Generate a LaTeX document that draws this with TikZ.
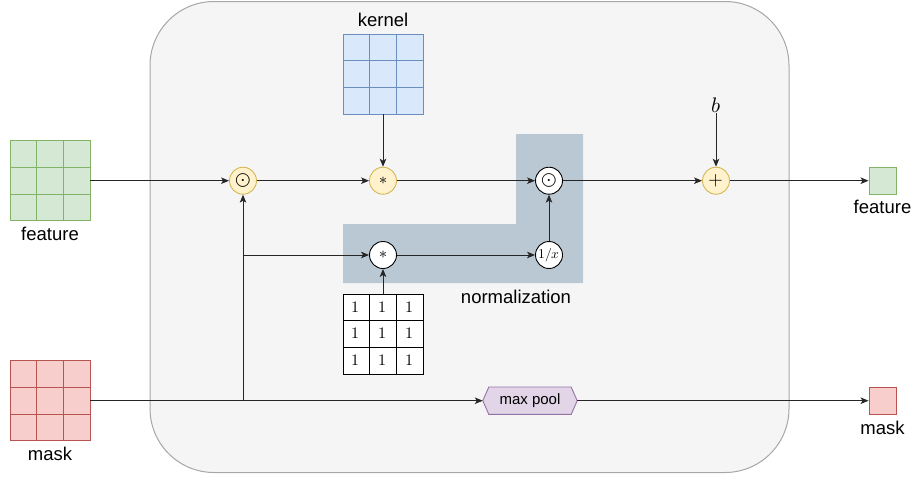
\documentclass[tikz,border=0pt]{standalone}
\usepackage{fontspec}
\usepackage{unicode-math}
\setmainfont{Liberation Sans}
\setmathfont{Latin Modern Math}
\usetikzlibrary{arrows.meta,calc}

\definecolor{panelfill}{HTML}{F5F5F5}
\definecolor{paneldraw}{HTML}{A6A6A6}
\definecolor{normfill}{HTML}{BAC8D3}
\definecolor{opfill}{HTML}{FFF2CC}
\definecolor{opdraw}{HTML}{D6B656}
\definecolor{grfill}{HTML}{D5E8D4}
\definecolor{grdraw}{HTML}{82B366}
\definecolor{rdfill}{HTML}{F8CECC}
\definecolor{rddraw}{HTML}{B85450}
\definecolor{blfill}{HTML}{DAE8FC}
\definecolor{bldraw}{HTML}{6C8EBF}
\definecolor{pufill}{HTML}{E1D5E7}
\definecolor{pudraw}{HTML}{9673A6}

% inner lines of a 3x3 grid drawn on a square node
\newcommand{\threegrid}[2]{%
  \foreach \k in {1,2} {
    \draw[#2, line width=0.9pt] ($(#1.north west)!\k/3!(#1.north east)$) -- ($(#1.south west)!\k/3!(#1.south east)$);
    \draw[#2, line width=0.9pt] ($(#1.north west)!\k/3!(#1.south west)$) -- ($(#1.north east)!\k/3!(#1.south east)$);
  }}

\begin{document}
\begin{tikzpicture}[x=1pt, y=-1pt,
  lbl/.style={font=\fontsize{18.5}{20}\selectfont, inner sep=0},
  op/.style={circle, minimum size=27pt, inner sep=0, line width=0.9pt},
  opy/.style={op, fill=opfill, draw=opdraw},
  opw/.style={op, fill=white, draw=black},
  cell/.style={minimum size=80pt, inner sep=0, line width=0.9pt, draw},
  sq/.style={minimum size=27pt, inner sep=0, line width=0.9pt, draw},
  arr/.style={-{Stealth[length=8pt,width=6.5pt,inset=2pt]}, line width=1pt, draw=black!85},
  ]
\useasboundingbox (0,0) rectangle (912,480);

% panel
\draw[fill=panelfill, draw=paneldraw, line width=1pt, rounded corners=64pt]
  (150,1.5) rectangle (789,472.5);

% normalization region
\fill[normfill] (343,224) -- (516,224) -- (516,134) -- (583,134) -- (583,283) -- (343,283) -- cycle;
\node[lbl] (normlbl) at (516,297) {normalization};

% input grids
\node[cell, fill=grfill, draw=grdraw] (feat) at (50,180.7) {};
\threegrid{feat}{grdraw}
\node[lbl] (featlbl) at (50,234) {feature};

\node[cell, fill=rdfill, draw=rddraw] (mask) at (50,400.7) {};
\threegrid{mask}{rddraw}
\node[lbl] (masklbl) at (50,454) {mask};

% kernel
\node[cell, fill=blfill, draw=bldraw] (kern) at (383,74) {};
\threegrid{kern}{bldraw}
\node[lbl] (kernlbl) at (383,20) {kernel};

% all-ones kernel
\node[cell, fill=white, draw=black] (ones) at (383,334) {};
\threegrid{ones}{black}
\foreach \i in {1,2,3} {
  \foreach \j in {1,2,3} {
    \node[inner sep=0, font=\fontsize{16}{16}\selectfont] at ($(ones.north west)+(\i*26.667-13.333,\j*26.667-13.333)$) {$1$};
  }
}

% operators
\node[opy, font=\fontsize{20}{20}\selectfont] (m1) at (243,180.7) {$\odot$};
\node[opy, font=\fontsize{16}{16}\selectfont] (c1) at (383,180.7) {$\ast$};
\node[opw, font=\fontsize{20}{20}\selectfont] (m2) at (549,180.7) {$\odot$};
\node[opy, font=\fontsize{19}{19}\selectfont] (add) at (716,180.7) {$+$};
\node[opw, font=\fontsize{16}{16}\selectfont] (c2) at (383,255) {$\ast$};
\node[opw, font=\fontsize{13.5}{13.5}\selectfont] (inv) at (549,255) {$1/x$};

\node[inner sep=0, font=\fontsize{21}{21}\selectfont, anchor=south] (bias) at (716,113) {$b$};

% max pool
\node[minimum width=94pt, minimum height=27pt, inner sep=0] (mp) at (530,400.7) {};
\draw[fill=pufill, draw=pudraw, line width=0.9pt]
  (mp.west) -- ($(mp.north west)+(6,0)$) -- ($(mp.north east)+(-6,0)$) -- (mp.east)
  -- ($(mp.south east)+(-6,0)$) -- ($(mp.south west)+(6,0)$) -- cycle;
\node[inner sep=0, font=\fontsize{15}{15}\selectfont] (mplbl) at (mp.center) {max pool};

% outputs
\node[sq, fill=grfill, draw=grdraw] (featout) at (882.5,180.7) {};
\node[lbl] (featoutlbl) at (882.5,207) {feature};
\node[sq, fill=rdfill, draw=rddraw] (maskout) at (882.5,400.7) {};
\node[lbl] (maskoutlbl) at (882.5,428) {mask};

% junctions on the mask path
\coordinate (jn) at (243,400.7);
\coordinate (br) at (243,255);

% connectors
\draw[arr] (feat.east) -- (m1);
\draw[arr] (m1) -- (c1);
\draw[arr] (c1) -- (m2);
\draw[arr] (m2) -- (add);
\draw[arr] (add) -- (featout);
\draw[arr] (kern) -- (c1);
\draw[arr] (bias) -- (add);
\draw[arr] (mask.east) -- (mp.west);
\draw[arr] (jn) -- (m1);
\draw[arr] (br) -- (c2);
\draw[arr] (ones) -- (c2);
\draw[arr] (c2) -- (inv);
\draw[arr] (inv) -- (m2);
\draw[arr] (mp.east) -- (maskout);
\end{tikzpicture}
\end{document}
